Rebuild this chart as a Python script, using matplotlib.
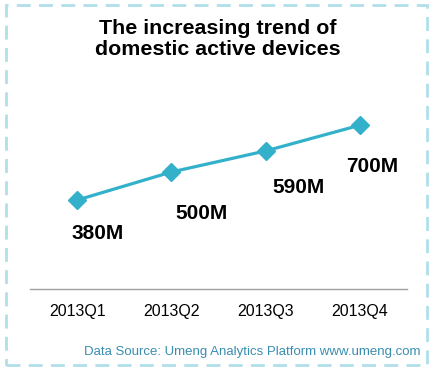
import matplotlib
matplotlib.use('Agg')
import matplotlib.pyplot as plt
from matplotlib.patches import Rectangle

# data
quarters = ['2013Q1', '2013Q2', '2013Q3', '2013Q4']
devices = [380, 500, 590, 700]          # millions
labels = ['380M', '500M', '590M', '700M']
label_offsets = [(15, -24), (22, -30), (24, -26), (9, -30)]   # points

line_color = '#33b1cb'
plt.rcParams['font.family'] = ['Liberation Sans', 'DejaVu Sans']

fig = plt.figure(figsize=(4.36, 3.71), dpi=100)
ax = fig.add_axes([30 / 436, 82 / 371, 377 / 436, 234 / 371])

x = range(len(quarters))
ax.plot(x, devices, color=line_color, lw=2.3, marker='D', markersize=9,
        markeredgecolor=line_color, zorder=5)
for xi, v, lab, off in zip(x, devices, labels, label_offsets):
    ax.annotate(lab, (xi, v), xytext=off, textcoords='offset points',
                ha='center', va='center', fontsize=15, fontweight='bold')

ax.set_xlim(-0.5, 3.5)
ax.set_ylim(0, 1000)
ax.set_xticks(list(x))
ax.set_xticklabels(quarters, fontsize=11.5)
ax.tick_params(axis='x', length=0, pad=11)
ax.set_yticks([])
for side in ['top', 'right', 'left']:
    ax.spines[side].set_visible(False)
ax.spines['bottom'].set_color('#a0a0a0')
ax.spines['bottom'].set_linewidth(1)

fig.text(0.5, 1 - 39 / 371, 'The increasing trend of\ndomestic active devices',
         ha='center', va='center', fontsize=15.4, fontweight='bold',
         linespacing=1.1)
fig.text(420 / 436, 1 - 352 / 371,
         'Data Source: Umeng Analytics Platform www.umeng.com',
         ha='right', va='center', fontsize=9.5, color='#3a8db0')

border = Rectangle((6 / 436, 6 / 371), 421 / 436, 360 / 371,
                   transform=fig.transFigure, fill=False,
                   edgecolor='#b0dfea', lw=2, linestyle=(0, (5, 3)))
fig.patches.append(border)

fig.savefig('out.png', dpi=100)
